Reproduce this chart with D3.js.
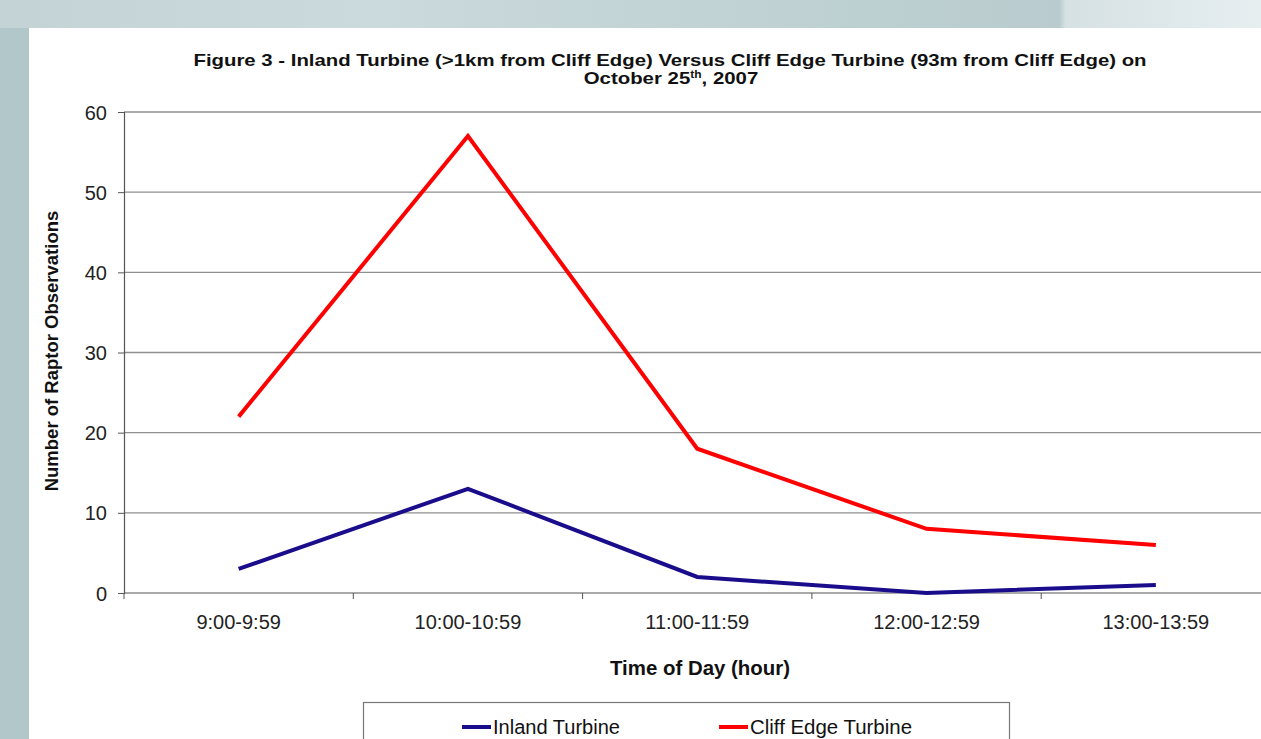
<!DOCTYPE html>
<html><head><meta charset="utf-8">
<script src="https://cdn.jsdelivr.net/npm/d3@7"></script>
<style>
html,body{margin:0;padding:0;overflow:hidden;}
body{width:1261px;height:739px;}
text{font-family:Arial,"Liberation Sans",sans-serif;}
</style></head>
<body>
<svg id="chart" width="1261" height="739"></svg>
<script>
const categories = ["9:00-9:59","10:00-10:59","11:00-11:59","12:00-12:59","13:00-13:59"];
const inlandValues = [3, 13, 2, 0, 1];
const cliffValues = [22, 57, 18, 8, 6];
const yTicks = [0, 10, 20, 30, 40, 50, 60];
const seriesNames = ["Inland Turbine", "Cliff Edge Turbine"];
const seriesColors = ["#1a0d8c", "#ff0000"];

(function(){
const svg = d3.select("#chart");

// background
const defs = svg.append("defs");
const g1 = defs.append("linearGradient").attr("id","bg").attr("x1","0").attr("x2","1").attr("y1","0").attr("y2","0");
g1.append("stop").attr("offset","0").attr("stop-color","#c4d3d5");
g1.append("stop").attr("offset","0.3").attr("stop-color","#cbdadc");
g1.append("stop").attr("offset","0.7").attr("stop-color","#bccfd1");
g1.append("stop").attr("offset","0.84").attr("stop-color","#b9cbce");
g1.append("stop").attr("offset","0.845").attr("stop-color","#d6e1e3");
g1.append("stop").attr("offset","1").attr("stop-color","#e6eef0");
svg.append("rect").attr("width",1261).attr("height",739).attr("fill","url(#bg)");
svg.append("rect").attr("x",0).attr("y",28).attr("width",29).attr("height",711).attr("fill","#b2c7c9");
svg.append("rect").attr("x",29).attr("y",28).attr("width",1232).attr("height",711).attr("fill","#ffffff");

const mLeft = 124, mTop = 112, mBottom = 593;
const bandW = 229.3;
const x = d3.scaleBand().domain(categories).range([mLeft, mLeft + bandW*categories.length]).paddingInner(0).paddingOuter(0);
const y = d3.scaleLinear().domain([0, 60]).range([mBottom, mTop]);

// gridlines
svg.append("g").selectAll("line").data(yTicks.filter(d=>d>0)).join("line")
  .attr("x1", mLeft).attr("x2", 1261).attr("y1", d=>y(d)).attr("y2", d=>y(d))
  .attr("stroke","#909090").attr("stroke-width",1.3);

// y axis
const yAxis = svg.append("g").attr("transform",`translate(${mLeft},0)`)
  .call(d3.axisLeft(y).tickValues(yTicks).tickSize(6).tickPadding(11).tickFormat(d3.format("d")));
yAxis.select(".domain").attr("stroke","#555").attr("stroke-width",1.2);
yAxis.selectAll(".tick line").attr("stroke","#555");
yAxis.selectAll(".tick text").attr("font-size",20).attr("fill","#222").attr("dy","0.35em");

// x axis
const xAxis = svg.append("g").attr("transform",`translate(0,${mBottom})`)
  .call(d3.axisBottom(x).tickSize(0).tickPadding(22));
xAxis.select(".domain").attr("stroke","#555").attr("stroke-width",1.2).attr("d",`M${mLeft},0H1261`);
xAxis.selectAll(".tick text").attr("font-size",20).attr("fill","#222");
// boundary ticks
svg.append("g").selectAll("line").data(categories).join("line")
  .attr("x1", d=>x(d)).attr("x2", d=>x(d)).attr("y1", mBottom).attr("y2", mBottom+6)
  .attr("stroke","#555");

// lines
const line = d3.line().x((d,i)=>x(categories[i]) + x.bandwidth()/2).y(d=>y(d));
[inlandValues, cliffValues].forEach((vals, k) => {
  svg.append("path").datum(vals).attr("d", line).attr("fill","none")
    .attr("stroke", seriesColors[k]).attr("stroke-width",4).attr("stroke-linejoin","miter");
});

// title
svg.append("text").attr("x",670).attr("y",66).attr("text-anchor","middle").attr("font-weight","bold")
  .attr("font-size",17).attr("fill","#111").attr("textLength",953).attr("lengthAdjust","spacingAndGlyphs")
  .text("Figure 3 - Inland Turbine (>1km from Cliff Edge) Versus Cliff Edge Turbine (93m from Cliff Edge) on");
const t2 = svg.append("text").attr("transform","translate(671,84) scale(1.2,1)").attr("text-anchor","middle")
  .attr("font-weight","bold").attr("font-size",17).attr("fill","#111");
t2.append("tspan").text("October 25");
t2.append("tspan").attr("font-size",10).attr("dy",-6).text("th");
t2.append("tspan").attr("dy",6).text(", 2007");

// y label
svg.append("text").attr("transform","translate(58,351) rotate(-90)").attr("text-anchor","middle")
  .attr("font-weight","bold").attr("font-size",18.5).attr("fill","#111").text("Number of Raptor Observations");

// x label
svg.append("text").attr("x",700).attr("y",675).attr("text-anchor","middle")
  .attr("font-weight","bold").attr("font-size",19.5).attr("fill","#111")
  .attr("textLength",180).attr("lengthAdjust","spacingAndGlyphs").text("Time of Day (hour)");

// legend
svg.append("rect").attr("x",363.5).attr("y",702.5).attr("width",646).attr("height",60)
  .attr("fill","#fff").attr("stroke","#777").attr("stroke-width",1.2);
const legX = [462, 719];
const legW = [127, 162];
seriesNames.forEach((n,k)=>{
  svg.append("line").attr("x1",legX[k]).attr("x2",legX[k]+29).attr("y1",727).attr("y2",727)
    .attr("stroke",seriesColors[k]).attr("stroke-width",4);
  svg.append("text").attr("x",legX[k]+31).attr("y",734).attr("font-size",20).attr("fill","#111")
    .attr("textLength",legW[k]).attr("lengthAdjust","spacingAndGlyphs").text(n);
});
})();
</script>
</body></html>
